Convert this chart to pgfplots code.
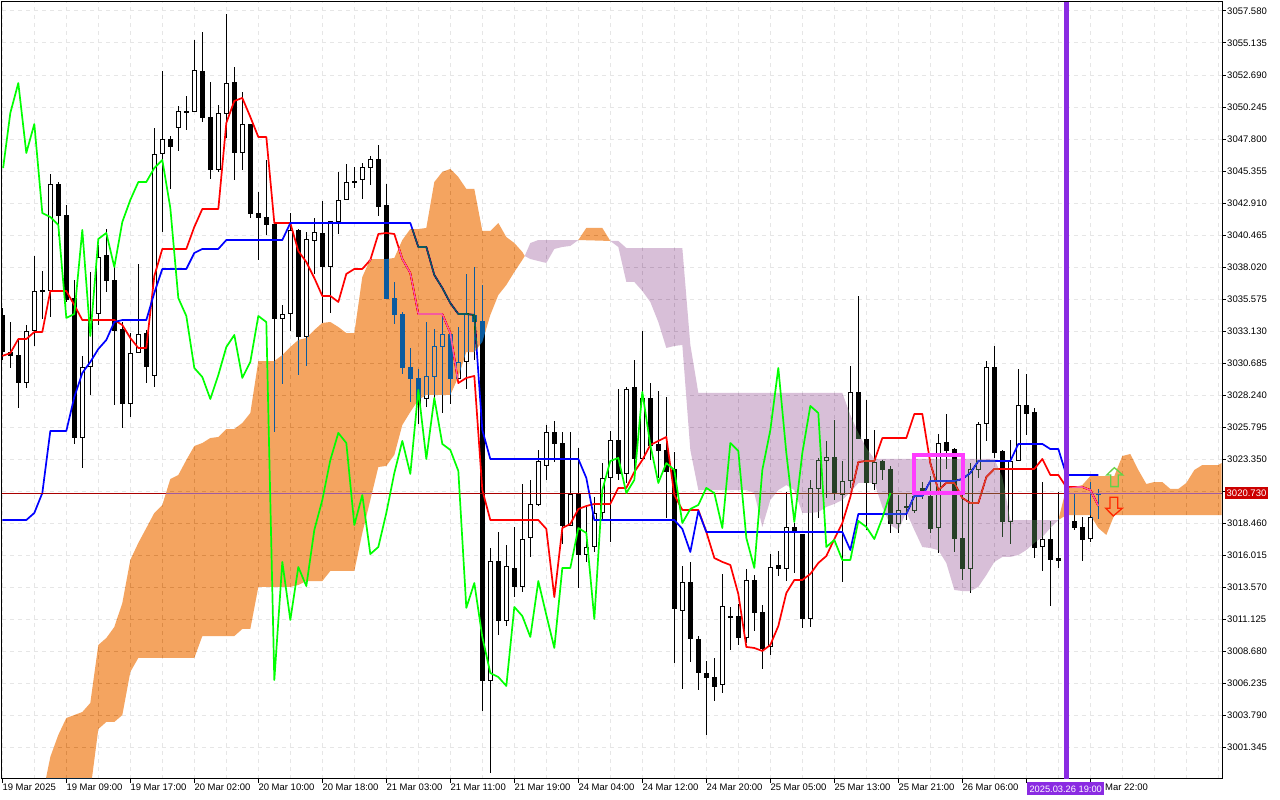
\documentclass[border=0pt]{standalone}
\usepackage{pgfplots}
\usepackage{pgfplotstable}
\usepackage{fontspec}
\setmainfont{Liberation Sans}
\pgfplotsset{compat=1.18}
\definecolor{orangeinv}{RGB}{11,91,159}
\definecolor{thistleinv}{RGB}{39,64,39}
\definecolor{gridc}{RGB}{230,230,230}
\definecolor{vline}{RGB}{138,43,226}
\definecolor{boxc}{RGB}{255,60,255}
\definecolor{priceln}{RGB}{170,0,0}
\pgfplotstableread{
i o h l c
0 3034.37 3034.90 3030.93 3031.54
1 3031.54 3033.83 3030.32 3031.24
2 3031.31 3032.53 3027.27 3029.17
5 3036.28 3037.73 3034.06 3036.12
7 3044.37 3044.52 3040.40 3041.93
8 3042.00 3042.77 3035.36 3035.51
9 3035.66 3037.04 3024.52 3024.97
13 3038.95 3040.93 3036.12 3036.96
14 3037.04 3038.03 3027.49 3033.14
15 3033.30 3033.83 3025.74 3027.57
18 3032.99 3033.22 3029.17 3030.40
21 3047.79 3048.03 3043.99 3047.19
23 3049.94 3051.09 3048.49 3049.79
25 3053.00 3055.98 3049.10 3049.41
26 3049.49 3052.16 3044.75 3045.44
29 3052.16 3053.30 3044.67 3046.74
31 3048.95 3048.95 3041.77 3042.08
32 3042.15 3043.76 3038.57 3041.77
33 3041.85 3046.20 3040.48 3041.24
34 3041.32 3041.39 3025.43 3034.06
37 3040.86 3040.93 3029.78 3032.69
40 3040.63 3043.07 3033.76 3038.03
44 3044.60 3045.67 3044.06 3044.45
47 3046.28 3047.35 3041.93 3042.61
48 3042.77 3044.37 3035.59 3035.59
49 3035.66 3036.89 3033.68 3034.37
50 3034.44 3034.60 3029.86 3030.32
51 3030.40 3031.85 3027.72 3029.48
52 3029.56 3030.24 3026.04 3027.49
56 3032.92 3032.92 3027.57 3029.48
59 3034.37 3038.03 3030.93 3033.83
60 3033.91 3036.66 3004.13 3006.42
62 3015.58 3017.80 3009.93 3011.00
64 3015.05 3018.18 3012.83 3013.60
69 3025.43 3026.27 3023.14 3024.52
70 3024.59 3025.43 3016.88 3018.26
72 3020.70 3024.21 3013.52 3016.04
77 3024.82 3028.72 3021.77 3022.23
79 3028.87 3030.93 3022.53 3023.37
81 3028.03 3029.17 3023.29 3024.36
82 3024.52 3028.56 3021.92 3023.98
83 3024.06 3028.10 3018.86 3022.38
84 3022.61 3023.90 3007.79 3011.92
86 3013.98 3015.51 3007.87 3009.63
87 3009.63 3009.85 3005.73 3007.03
88 3007.03 3007.95 3002.29 3006.65
89 3006.72 3008.18 3004.89 3005.96
91 3011.38 3012.07 3008.79 3011.23
92 3011.38 3012.30 3009.17 3009.70
94 3014.13 3014.51 3010.24 3011.61
95 3011.69 3012.22 3007.33 3008.86
97 3015.28 3016.35 3014.44 3014.97
99 3018.18 3018.48 3014.67 3017.72
100 3017.64 3017.64 3010.47 3011.15
104 3023.52 3026.35 3020.24 3020.70
107 3028.49 3035.82 3024.90 3024.90
108 3024.90 3027.88 3017.95 3021.54
110 3023.22 3023.29 3021.77 3022.53
111 3022.61 3022.84 3017.72 3018.41
115 3021.16 3021.61 3020.32 3020.93
116 3020.55 3022.07 3017.72 3018.03
118 3024.67 3026.81 3022.61 3023.98
119 3024.13 3024.21 3016.27 3017.26
120 3017.34 3021.23 3014.13 3014.97
124 3030.40 3032.00 3023.45 3023.83
125 3023.98 3024.06 3017.41 3018.56
128 3027.49 3029.86 3025.20 3026.81
129 3026.96 3027.27 3015.81 3016.57
131 3017.26 3018.64 3012.15 3015.66
132 3015.81 3020.85 3015.05 3015.58
134 3018.64 3020.77 3017.95 3018.10
135 3018.18 3018.94 3015.58 3017.19
137 3020.77 3021.08 3018.79 3020.62
}\bear
\pgfplotstableread{
i o h l c
3 3029.17 3033.60 3028.79 3033.14
4 3033.14 3038.87 3032.00 3036.20
6 3036.20 3045.13 3034.21 3044.37
10 3024.97 3031.24 3022.68 3030.40
11 3030.40 3037.65 3028.26 3033.98
12 3034.44 3039.71 3033.60 3038.80
16 3027.57 3032.99 3026.58 3031.46
17 3031.46 3038.26 3031.46 3032.92
19 3029.71 3048.65 3028.87 3046.66
20 3046.66 3053.00 3040.70 3047.79
22 3048.65 3050.33 3046.89 3049.94
24 3049.87 3055.37 3049.87 3053.07
27 3045.44 3050.40 3045.29 3049.79
28 3049.71 3057.35 3047.88 3052.08
30 3046.74 3051.39 3045.44 3048.95
35 3034.06 3035.13 3029.10 3034.44
36 3034.44 3042.15 3033.14 3040.86
38 3032.69 3040.70 3030.47 3040.17
39 3040.02 3041.77 3037.50 3040.70
41 3038.03 3041.54 3034.52 3041.54
42 3041.47 3045.29 3040.55 3043.15
43 3043.15 3045.90 3043.15 3044.52
45 3044.67 3045.97 3043.22 3045.67
46 3045.59 3046.51 3044.29 3046.28
53 3027.95 3033.83 3027.34 3029.71
54 3029.63 3033.30 3027.65 3032.00
55 3031.92 3034.21 3026.88 3032.92
57 3029.48 3033.45 3029.48 3030.78
58 3030.78 3037.50 3028.72 3034.52
61 3006.42 3016.57 2999.39 3015.58
63 3011.00 3016.80 3010.62 3015.20
65 3013.60 3021.46 3013.21 3017.26
66 3017.34 3021.77 3015.89 3019.94
67 3019.86 3024.06 3019.78 3023.22
68 3022.84 3025.97 3021.77 3025.43
71 3018.26 3025.43 3018.26 3020.70
73 3016.04 3019.71 3015.51 3016.65
74 3016.65 3020.47 3016.27 3019.25
75 3019.25 3023.06 3018.71 3021.92
76 3021.92 3025.51 3017.03 3024.82
78 3022.23 3028.87 3021.54 3028.72
80 3023.37 3033.14 3023.29 3028.03
85 3011.76 3015.20 3005.81 3013.98
90 3006.11 3014.59 3005.50 3012.15
93 3009.70 3014.97 3009.32 3014.13
96 3009.02 3016.11 3008.40 3015.12
98 3014.97 3020.85 3014.05 3018.18
101 3011.15 3021.77 3010.54 3021.16
102 3021.08 3023.45 3018.86 3023.29
103 3023.22 3024.75 3020.39 3023.52
105 3020.62 3023.22 3013.98 3021.69
106 3021.69 3030.47 3021.16 3028.49
109 3021.46 3025.58 3021.00 3023.14
112 3018.41 3020.62 3017.72 3019.48
113 3019.63 3020.77 3018.71 3019.78
114 3019.40 3021.23 3019.25 3020.55
117 3018.10 3025.28 3016.19 3024.59
121 3014.97 3023.06 3013.14 3022.61
122 3022.53 3026.20 3021.92 3026.04
123 3026.04 3030.85 3024.75 3030.40
126 3018.56 3024.82 3016.88 3023.22
127 3023.22 3030.24 3023.22 3027.49
130 3016.65 3021.61 3014.82 3017.26
133 3015.58 3019.48 3014.89 3018.64
136 3017.26 3021.61 3017.03 3018.94
}\bull
\begin{document}
\begin{tikzpicture}[x=1pt,y=1pt]
\path[use as bounding box,fill=white] (0,0) rectangle (1280,800);
\begin{axis}[
  at={(2pt,21pt)},anchor=south west,
  scale only axis,width=1220pt,height=777pt,
  xmin=-0.04,xmax=152.46,ymin=2998.935,ymax=3058.267,
  axis background/.style={fill=white},
  axis line style={black,line width=1pt},
  font=\fontsize{9.5}{11}\selectfont,
  ytick pos=right,yticklabel pos=right,xtick pos=bottom,
  tick align=outside,major tick length=4pt,minor tick length=0pt,
  tick style={black,line width=1pt},
  ytick={3001.345,3003.79,3006.235,3008.68,3011.125,3013.57,3016.015,3018.46,3020.905,3023.35,3025.795,3028.24,3030.685,3033.13,3035.575,3038.02,3040.465,3042.91,3045.355,3047.8,3050.245,3052.69,3055.135,3057.58},
  yticklabels={3001.345,3003.790,3006.235,3008.680,3011.125,3013.570,3016.015,3018.460,,3023.350,3025.795,3028.240,3030.685,3033.130,3035.575,3038.020,3040.465,3042.910,3045.355,3047.800,3050.245,3052.690,3055.135,3057.580},
  xtick={0,8,...,136},
  xticklabels={19 Mar 2025,19 Mar 09:00,19 Mar 17:00,20 Mar 02:00,20 Mar 10:00,20 Mar 18:00,21 Mar 03:00,21 Mar 11:00,21 Mar 19:00,24 Mar 04:00,24 Mar 12:00,24 Mar 20:00,25 Mar 05:00,25 Mar 13:00,25 Mar 21:00,26 Mar 06:00,,},
  minor xtick={4,12,...,148,144,152},
  xmajorgrids,xminorgrids,ymajorgrids,
  grid style={gridc,line width=1pt,dash pattern=on 4pt off 4pt},
  minor grid style={gridc,line width=1pt,dash pattern=on 4pt off 4pt},
  xticklabel style={anchor=north west,inner sep=0pt,xshift=0pt,yshift=-1pt},
  yticklabel style={anchor=west,inner sep=0pt,xshift=1pt},
  candle/.style={forget plot,sharp plot,draw=none,no markers,error bars/y dir=both,error bars/y explicit,error bars/error mark=none},
]
% wicks
\addplot[candle,error bars/error bar style={draw=black,line width=1pt}] table[x=i,y expr={(\thisrow{h}+\thisrow{l})/2},y error expr={(\thisrow{h}-\thisrow{l})/2}] {\bear};
\addplot[candle,error bars/error bar style={draw=black,line width=1pt}] table[x=i,y expr={(\thisrow{h}+\thisrow{l})/2},y error expr={(\thisrow{h}-\thisrow{l})/2}] {\bull};
% bodies
\addplot[candle,error bars/error bar style={draw=black,line width=5pt}] table[x=i,y expr={(\thisrow{o}+\thisrow{c})/2},y error expr={(\thisrow{o}-\thisrow{c})/2}] {\bear};
\addplot[candle,error bars/error bar style={draw=black,line width=5pt}] table[x=i,y expr={(\thisrow{o}+\thisrow{c})/2},y error expr={(\thisrow{c}-\thisrow{o})/2}] {\bull};
\addplot[candle,error bars/error bar style={draw=white,line width=3pt}] table[x=i,y expr={(\thisrow{o}+\thisrow{c})/2},y error expr={max((\thisrow{c}-\thisrow{o})/2-0.0764,0)}] {\bull};
% tenkan
\addplot[red,line width=1.7pt,line join=round,forget plot] coordinates {(0,3031.24)(1,3031.46)(2,3032.53)(3,3032.53)(4,3033.07)(5,3033.07)(6,3036.20)(8,3036.20)(9,3035.13)(10,3033.98)(14,3033.98)(15,3033.60)(16,3032.61)(17,3031.85)(18,3031.85)(19,3037.34)(20,3039.41)(23,3039.41)(24,3041.09)(25,3042.46)(27,3042.46)(28,3049.03)(29,3050.71)(30,3050.94)(31,3049.49)(32,3047.96)(33,3047.96)(34,3041.39)(36,3041.39)(37,3039.25)(38,3038.41)(39,3037.19)(40,3035.82)(41,3035.82)(42,3035.36)(43,3037.50)(44,3037.88)(45,3037.88)(46,3038.57)(47,3040.55)(48,3040.63)(49,3040.55)(50,3038.64)(51,3037.57)(52,3034.44)(55,3034.44)(56,3032.99)(57,3029.17)(58,3029.56)(59,3029.71)(60,3021.00)(61,3018.71)(67,3018.71)(68,3018.03)(69,3012.83)(70,3018.10)(71,3018.41)(72,3019.55)(73,3019.78)(74,3019.94)(76,3019.94)(77,3021.16)(78,3021.16)(79,3022.38)(80,3023.29)(81,3024.44)(82,3024.75)(83,3025.05)(84,3020.62)(85,3019.48)(87,3019.48)(88,3017.80)(89,3015.81)(90,3015.51)(91,3015.28)(92,3013.06)(93,3009.02)(94,3008.94)(95,3008.71)(96,3009.17)(97,3010.62)(98,3013.14)(99,3014.13)(100,3014.13)(101,3014.59)(102,3015.43)(103,3015.96)(104,3017.26)(105,3018.48)(106,3020.47)(107,3023.14)(108,3023.22)(109,3023.22)(110,3024.97)(113,3024.97)(114,3026.81)(115,3026.81)(116,3023.06)(117,3021.00)(118,3021.54)(119,3021.54)(120,3020.39)(121,3020.01)(122,3020.01)(123,3021.99)(124,3022.61)(129,3022.61)(130,3023.37)(131,3022.15)(132,3022.15)(133,3021.23)(135,3021.23)(136,3021.00)(137,3019.78)};
% kijun
\addplot[blue,line width=1.7pt,line join=round,forget plot] coordinates {(0,3018.71)(3,3018.71)(4,3019.25)(5,3020.77)(6,3025.51)(8,3025.51)(9,3028.10)(10,3029.94)(11,3030.78)(12,3031.77)(13,3032.46)(14,3033.83)(15,3033.98)(18,3033.98)(19,3036.05)(20,3037.88)(23,3037.88)(24,3039.10)(25,3039.41)(27,3039.41)(28,3040.09)(35,3040.09)(36,3041.39)(51,3041.39)(52,3039.56)(53,3039.56)(54,3037.42)(55,3036.43)(56,3035.28)(57,3034.44)(58,3034.44)(59,3034.37)(60,3025.58)(61,3023.37)(72,3023.37)(73,3021.92)(74,3018.71)(84,3018.71)(85,3018.03)(86,3016.27)(87,3019.40)(88,3017.80)(105,3017.80)(106,3016.42)(107,3019.17)(113,3019.17)(114,3020.55)(115,3020.55)(116,3021.69)(119,3021.69)(120,3021.84)(121,3022.30)(122,3023.22)(126,3023.22)(127,3024.52)(130,3024.52)(131,3024.13)(132,3024.13)(133,3022.15)(137,3022.15)};
% current price line
\addplot[priceln,line width=1pt,forget plot] coordinates {(-1,3020.73)(153,3020.73)};
% cloud: orange 1
\addplot[fill=orangeinv,draw=none,blend mode=difference,forget plot] coordinates {(5.46,2998.98)(6,3000.62)(7,3002.30)(8,3003.59)(9,3003.82)(10,3004.05)(11,3004.74)(12,3009.17)(13,3009.70)(14,3010.54)(15,3012.37)(16,3015.66)(17,3016.96)(18,3018.10)(19,3019.25)(20,3019.86)(21,3021.84)(22,3022.15)(23,3023.29)(24,3024.36)(25,3024.59)(26,3024.97)(27,3025.05)(28,3025.66)(29,3025.66)(30,3026.12)(31,3026.88)(32,3030.85)(34,3030.85)(35,3031.31)(36,3031.92)(37,3032.46)(38,3032.61)(39,3033.22)(40,3033.76)(41,3033.83)(42,3033.45)(43,3032.99)(44,3032.99)(45,3037.27)(46,3038.64)(48,3038.64)(49,3038.72)(50,3040.09)(51,3040.93)(52,3040.93)(53,3041.01)(54,3044.52)(55,3045.29)(56,3045.52)(57,3044.90)(58,3043.99)(59,3043.99)(60,3040.78)(61,3040.78)(62,3041.39)(63,3040.32)(64,3039.86)(65,3039.18)(65.3,3038.87)(65,3038.57)(64,3037.65)(63,3036.66)(62,3035.89)(61,3034.37)(60,3032.31)(59,3031.54)(58,3031.54)(57,3029.63)(56,3028.26)(53,3028.26)(52,3027.88)(51,3026.96)(50,3025.97)(49,3023.68)(48,3022.84)(47,3022.76)(46,3020.24)(45,3017.72)(44,3014.82)(41,3014.82)(40,3014.05)(38,3014.05)(37,3013.75)(36,3013.60)(32,3013.60)(31,3010.39)(30,3010.39)(29,3009.85)(25,3009.85)(24,3008.18)(17,3008.18)(16,3007.11)(15,3003.82)(14,3003.29)(13,3003.29)(12,3002.75)(11.2,2998.98)} -- cycle;
% cloud: thistle 1
\addplot[fill=thistleinv,draw=none,blend mode=difference,forget plot] coordinates {(65.3,3038.87)(66,3039.86)(67,3040.09)(72,3040.09)(71,3039.64)(70,3039.56)(69,3039.41)(68,3038.34)(67,3038.49)(66,3038.64)} -- cycle;
% cloud: orange 2
\addplot[fill=orangeinv,draw=none,blend mode=difference,forget plot] coordinates {(72,3040.09)(73,3041.01)(75,3041.01)(76,3040.02)} -- cycle;
% cloud: thistle 2
\addplot[fill=thistleinv,draw=none,blend mode=difference,forget plot] coordinates {(76,3040.02)(77,3040.02)(78,3039.48)(85,3039.48)(86,3032.08)(87,3028.41)(105,3028.41)(106,3026.73)(107,3025.36)(108,3024.21)(109,3023.37)(124,3023.37)(125,3021.99)(126,3018.71)(132,3018.71)(131,3018.10)(130,3017.41)(129,3016.96)(128,3016.42)(127,3016.04)(126,3015.89)(125,3015.89)(124,3015.51)(123,3014.51)(122,3013.60)(121,3013.29)(120,3013.29)(119,3013.37)(118,3015.43)(117,3016.42)(116,3016.57)(115,3016.65)(114,3017.95)(113,3019.32)(112,3017.95)(111,3018.33)(110,3019.71)(109,3021.54)(107,3021.54)(106,3020.85)(105,3020.24)(104,3019.94)(103,3019.71)(102,3019.32)(101,3019.25)(100,3019.25)(99,3021.00)(98,3021.38)(97,3021.00)(96,3020.24)(95,3018.18)(94,3020.77)(93,3021.00)(87,3021.00)(86,3024.06)(85,3032.08)(84,3032.00)(83,3031.85)(82,3033.83)(81,3035.36)(80,3036.20)(79,3036.89)(78,3036.89)(77,3039.56)} -- cycle;
% cloud: orange 3
\addplot[fill=orangeinv,draw=none,blend mode=difference,forget plot] coordinates {(132,3018.71)(133,3021.16)(134,3021.23)(135,3021.38)(136,3022.07)(139,3022.07)(140,3023.60)(141,3023.75)(142,3022.53)(143,3021.46)(144,3021.61)(145,3021.61)(146,3021.08)(147,3021.08)(148,3021.54)(149,3022.53)(150,3022.91)(152,3022.91)(152.4,3023.06)(152.4,3019.09)(139,3019.09)(138,3017.57)(137,3018.10)(136,3019.09)(133,3019.09)} -- cycle;
% chikou
\addplot[green,line width=1.7pt,line join=round,forget plot] coordinates {(0.1,3045.59)(1,3049.79)(2,3052.08)(3,3046.74)(4,3048.95)(5,3042.15)(6,3041.85)(7,3041.24)(8,3034.14)(9,3034.44)(10,3040.86)(11,3032.76)(12,3040.17)(13,3040.63)(14,3038.03)(15,3041.47)(16,3043.15)(17,3044.52)(18,3044.52)(19,3045.59)(20,3046.20)(21,3042.54)(22,3035.66)(23,3034.29)(24,3030.32)(25,3029.63)(26,3027.95)(27,3029.78)(28,3031.92)(29,3032.84)(30,3029.56)(31,3030.78)(32,3034.29)(33,3033.83)(34,3006.49)(35,3015.51)(36,3011.08)(37,3015.12)(38,3013.67)(39,3017.95)(40,3020.24)(41,3023.29)(42,3025.36)(43,3024.59)(44,3018.33)(45,3020.62)(46,3016.11)(47,3016.65)(48,3019.25)(49,3022.30)(50,3024.75)(51,3022.23)(52,3028.64)(53,3023.37)(54,3028.03)(55,3024.52)(56,3024.06)(57,3022.46)(58,3012.00)(59,3013.90)(60,3009.78)(61,3007.03)(62,3006.72)(63,3006.04)(64,3012.07)(65,3011.38)(66,3009.78)(67,3014.05)(68,3011.46)(69,3008.94)(70,3015.05)(71,3015.05)(72,3018.10)(73,3017.72)(74,3011.15)(75,3021.00)(76,3023.22)(77,3023.45)(78,3020.77)(79,3021.77)(80,3028.49)(81,3024.44)(82,3021.54)(83,3023.06)(84,3022.53)(85,3018.48)(86,3019.55)(87,3019.86)(88,3021.16)(89,3020.77)(90,3018.10)(91,3024.59)(92,3023.98)(93,3017.34)(94,3015.05)(95,3022.53)(96,3025.58)(97,3030.32)(98,3023.83)(99,3018.56)(100,3023.83)(101,3027.42)(102,3026.88)(103,3016.65)(104,3017.19)(105,3015.66)(106,3015.66)(107,3018.64)(108,3018.18)(109,3017.26)(110,3018.86)(111,3020.77)};
% selected-time line
\addplot[vline,line width=4.5pt,forget plot] coordinates {(133,2998.935)(133,3058.267)};
% box
\addplot[boxc,line width=4pt,line join=miter,forget plot] coordinates {(114,3023.66)(120.08,3023.66)(120.08,3020.77)(114,3020.77)} -- cycle;
% arrows
\addplot[color={rgb,255:red,100;green,210;blue,70},line width=1.3pt,line join=miter,forget plot] coordinates {(139,3022.71)(140.05,3022.15)(139.5,3022.15)(139.5,3021.26)(138.55,3021.26)(138.55,3022.15)(138.05,3022.15)} -- cycle;
\addplot[color={rgb,255:red,255;green,40;blue,0},line width=1.3pt,line join=miter,forget plot] coordinates {(138.87,3019.02)(140,3019.61)(139.42,3019.61)(139.42,3020.45)(138.46,3020.45)(138.46,3019.61)(137.92,3019.61)} -- cycle;
\end{axis}
\node[fill=vline,text=white,inner sep=0pt,minimum width=77pt,minimum height=13pt,font=\fontsize{9.3}{11}\selectfont] at (1065.7,11) {2025.03.26 19:00};
\node[anchor=west,inner sep=0pt,font=\fontsize{9.5}{11}\selectfont] at (1105,12.5) {Mar 22:00};
\node[fill={rgb,255:red,204;green,0;blue,0},text=white,inner sep=0pt,minimum width=43pt,minimum height=12pt,font=\fontsize{9.5}{11}\selectfont] at (1246.5,306.5) {3020.730};
\end{tikzpicture}
\end{document}
